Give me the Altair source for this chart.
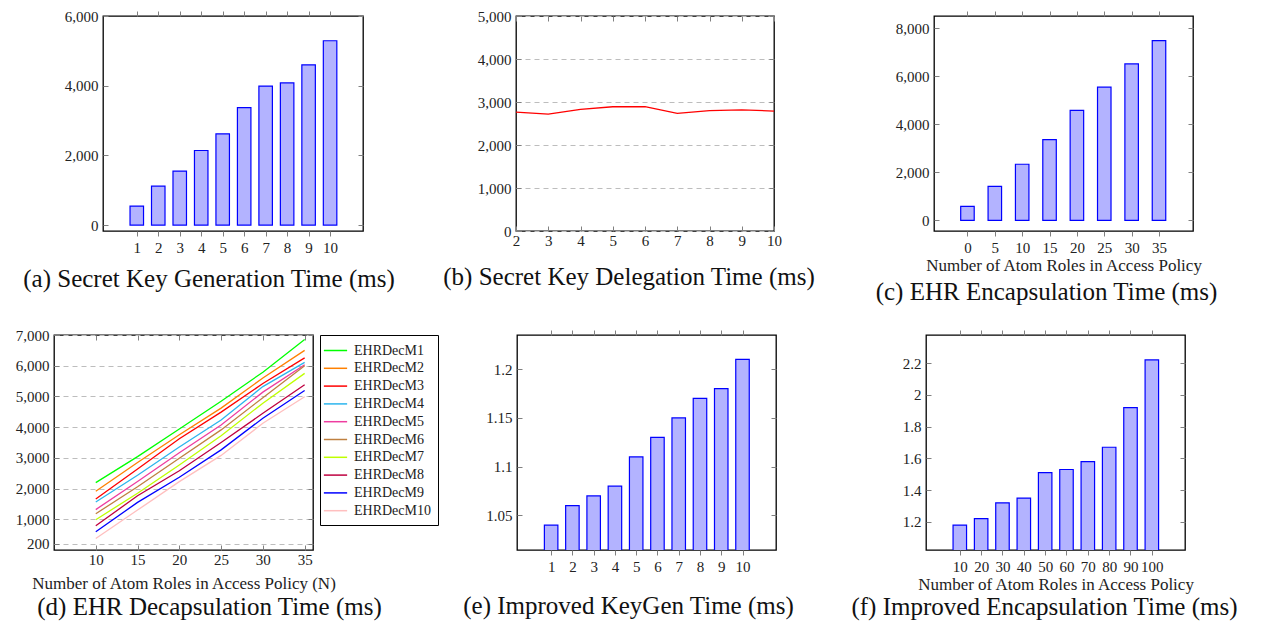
import altair as alt
import pandas as pd

FONT = "Liberation Serif"
BAR_FILL = "#b3b3ff"
BAR_EDGE = "#0000ff"
TXT = "#222222"

# ---------------- data ----------------
a_x = [1, 2, 3, 4, 5, 6, 7, 8, 9, 10]
a_y = [545, 1115, 1550, 2140, 2620, 3370, 3990, 4080, 4600, 5290]

b_x = [2, 3, 4, 5, 6, 7, 8, 9, 10]
b_y = [2765, 2720, 2830, 2890, 2890, 2735, 2800, 2815, 2790]

c_x = [0, 5, 10, 15, 20, 25, 30, 35]
c_y = [583, 1415, 2335, 3360, 4580, 5545, 6515, 7485]

d_x = [10, 15, 20, 25, 30, 35]
d_names = ["EHRDecM1", "EHRDecM2", "EHRDecM3", "EHRDecM4", "EHRDecM5",
           "EHRDecM6", "EHRDecM7", "EHRDecM8", "EHRDecM9", "EHRDecM10"]
d_M1 = [2195, 3040, 3937, 4845, 5790, 6850]
d_M2 = [1915, 2850, 3755, 4620, 5600, 6500]
d_M3 = [1660, 2640, 3620, 4490, 5420, 6255]
d_M4 = [1565, 2435, 3355, 4235, 5320, 6110]
d_M5 = [1315, 2230, 3165, 4070, 5140, 6030]
d_M6 = [1180, 2060, 2990, 3910, 4960, 6000]
d_M7 = [985, 1850, 2770, 3720, 4780, 5750]
d_M8 = [790, 1765, 2580, 3500, 4450, 5380]
d_M9 = [595, 1550, 2370, 3260, 4290, 5195]
d_M10 = [375, 1300, 2225, 3080, 4125, 4990]
d_colors = ["#00ff00", "#ff8000", "#ff0000", "#2cb5ee", "#ee3da0",
            "#bf8040", "#bfff00", "#bf0040", "#0000ff", "#ffbfbf"]

e_x = [1, 2, 3, 4, 5, 6, 7, 8, 9, 10]
e_y = [1.04, 1.06, 1.07, 1.08, 1.11, 1.13, 1.15, 1.17, 1.18, 1.21]

f_x = [10, 20, 30, 40, 50, 60, 70, 80, 90, 100]
f_y = [1.18, 1.22, 1.32, 1.35, 1.51, 1.53, 1.58, 1.67, 1.92, 2.22]

ROLE_TITLE = "Number of Atom Roles in Access Policy"

# ---------------- helpers ----------------
def mk_axis(orient, values, inside, labels, fmt, title=None, grid=False,
            lab_pad=4, title_pad=2):
    kw = dict(orient=orient, values=values, labels=labels, domain=False,
              grid=grid, ticks=True,
              tickSize=({"expr": "-5"} if inside else 5),
              tickColor="#808080", tickWidth=1,
              labelFont=FONT, labelFontSize=15, labelColor=TXT,
              labelFlush=False, labelOverlap=False, labelPadding=lab_pad,
              format=fmt, title=title)
    if grid:
        kw.update(gridDash=[5, 4], gridColor="#bdbdbd", gridWidth=1)
    if title:
        kw.update(titleFont=FONT, titleFontSize=17, titleFontWeight="normal",
                  titleColor=TXT, titlePadding=title_pad)
    return alt.Axis(**kw)


def caption(text, dx, offset):
    return alt.Title(text, orient="bottom", anchor="middle", frame="group",
                     dx=dx, offset=offset, font=FONT, fontSize=25,
                     fontWeight="normal", color="#111111")


def bar_panel(xs, ys, xdom, ydom, xvals, yvals, yfmt, w, h, cap, dx, off,
              xtitle=None, title_pad=2):
    df = pd.DataFrame({"x": xs, "v": ys})
    xsc = alt.Scale(domain=xdom, nice=False, zero=False)
    ysc = alt.Scale(domain=ydom, nice=False, zero=False)
    main = alt.Chart(df).mark_bar(size=13.5, fill=BAR_FILL, stroke=BAR_EDGE,
                                  strokeWidth=1.2, clip=True).encode(
        x=alt.X("x:Q", scale=xsc,
                axis=mk_axis("bottom", xvals, False, True, "d", xtitle,
                             lab_pad=4, title_pad=title_pad)),
        y=alt.Y("v:Q", scale=ysc,
                axis=mk_axis("left", yvals, True, True, yfmt, lab_pad=10)),
        y2=alt.datum(0),
    )
    mirror = alt.Chart(df).mark_bar(size=13.5, opacity=0, clip=True).encode(
        x=alt.X("x:Q", scale=xsc, axis=mk_axis("top", xvals, False, False, "d")),
        y=alt.Y("v:Q", scale=ysc, axis=mk_axis("right", yvals, True, False, yfmt)),
        y2=alt.datum(0),
    )
    return alt.layer(main, mirror).properties(width=w, height=h,
                                              title=caption(cap, dx, off))


def spacer(w, h):
    return alt.Chart(pd.DataFrame({"s": [0]})).mark_point(opacity=0, size=1).encode(
        x=alt.X("s:Q", axis=None), y=alt.Y("s:Q", axis=None)
    ).properties(width=w, height=h,
                 view=alt.ViewBackground(stroke="transparent", fill="transparent"))


# ---------------- panels ----------------
A = bar_panel(a_x, a_y, [-0.34, 11.3], [-170, 6000], a_x,
              [0, 2000, 4000, 6000], ",d", 260, 215,
              "(a) Secret Key Generation Time (ms)", -24, 12)

b_df = pd.DataFrame({"x": b_x, "v": b_y})
b_xs = alt.Scale(domain=[2, 10], nice=False, zero=False)
b_ys = alt.Scale(domain=[0, 5000], nice=False)
b_yv = [0, 1000, 2000, 3000, 4000, 5000]
b_main = alt.Chart(b_df).mark_line(color="#ff0000", strokeWidth=1.3).encode(
    x=alt.X("x:Q", scale=b_xs, axis=mk_axis("bottom", b_x, True, True, "d", lab_pad=7)),
    y=alt.Y("v:Q", scale=b_ys, axis=mk_axis("left", b_yv, True, True, ",d",
                                             grid=True, lab_pad=10)),
)
b_mirror = alt.Chart(b_df).mark_line(opacity=0).encode(
    x=alt.X("x:Q", scale=b_xs, axis=mk_axis("top", b_x, True, False, "d")),
    y=alt.Y("v:Q", scale=b_ys, axis=mk_axis("right", b_yv, True, False, ",d")),
)
B = alt.layer(b_main, b_mirror).properties(
    width=258, height=215,
    title=caption("(b) Secret Key Delegation Time (ms)", -16, 17))

C = bar_panel(c_x, c_y, [-5.2, 40.3], [-445, 8510], c_x,
              [0, 2000, 4000, 6000, 8000], ",d", 259, 215,
              "(c) EHR Encapsulation Time (ms)", -17, 7, xtitle=ROLE_TITLE)

d_series = [d_M1, d_M2, d_M3, d_M4, d_M5, d_M6, d_M7, d_M8, d_M9, d_M10]
d_rows = []
for name, vals in zip(d_names, d_series):
    for xv, yv in zip(d_x, vals):
        d_rows.append({"x": xv, "v": yv, "series": name})
d_df = pd.DataFrame(d_rows)
d_xs = alt.Scale(domain=[5, 36], nice=False, zero=False)
d_ys = alt.Scale(domain=[0, 7000], nice=False)
d_yv = [200, 1000, 2000, 3000, 4000, 5000, 6000, 7000]
d_main = alt.Chart(d_df).mark_line(strokeWidth=1.3).encode(
    x=alt.X("x:Q", scale=d_xs,
            axis=mk_axis("bottom", d_x, True, True, "d",
                         ROLE_TITLE + " (N)", lab_pad=7, title_pad=8)),
    y=alt.Y("v:Q", scale=d_ys, axis=mk_axis("left", d_yv, True, True, ",d",
                                             grid=True, lab_pad=10)),
    color=alt.Color("series:N",
                    scale=alt.Scale(domain=d_names, range=d_colors),
                    sort=d_names,
                    legend=alt.Legend(title=None, orient="right", offset=6,
                                      strokeColor="#000000", fillColor="#ffffff",
                                      padding=7, cornerRadius=0,
                                      symbolType="M-1.55,0H1.55", symbolSize=225,
                                      symbolStrokeWidth=1.5, labelFont=FONT,
                                      labelFontSize=14, labelColor=TXT,
                                      labelOffset=10, rowPadding=1.8,
                                      labelLimit=200)),
)
d_mirror = alt.Chart(d_df).mark_line(opacity=0).encode(
    x=alt.X("x:Q", scale=d_xs, axis=mk_axis("top", d_x, True, False, "d")),
    y=alt.Y("v:Q", scale=d_ys, axis=mk_axis("right", d_yv, True, False, ",d")),
    detail="series:N",
)
D = alt.layer(d_main, d_mirror).properties(
    width=259, height=215,
    title=caption("(d) EHR Decapsulation Time (ms)", 26, 4))

E = bar_panel(e_x, e_y, [-0.37, 11.34], [1.0145, 1.235], e_x,
              [1.05, 1.1, 1.15, 1.2], "~f", 259, 215,
              "(e) Improved KeyGen Time (ms)", -18, 20)

F = bar_panel(f_x, f_y, [-3.5, 113.2], [1.023, 2.377], f_x,
              [1.2, 1.4, 1.6, 1.8, 2.0, 2.2], "~f", 259, 215,
              "(f) Improved Encapsulation Time (ms)", -11, 3, xtitle=ROLE_TITLE)

# ---------------- layout ----------------
row1 = alt.hconcat(spacer(94, 1), A, spacer(153, 1), B, spacer(160, 1), C,
                   spacing=0, bounds="flush")
row2 = alt.hconcat(spacer(45, 1), D, spacer(204, 1), E, spacer(150, 1), F,
                   spacing=0, bounds="flush").resolve_legend(color="independent")

chart = alt.vconcat(row1, row2, spacing=21).properties(
    padding=0, background="white"
).resolve_legend(color="independent").configure_view(
    stroke="#000000", strokeWidth=1.3
)

chart.save("out.html", embed_options={"renderer": "svg", "actions": False})
